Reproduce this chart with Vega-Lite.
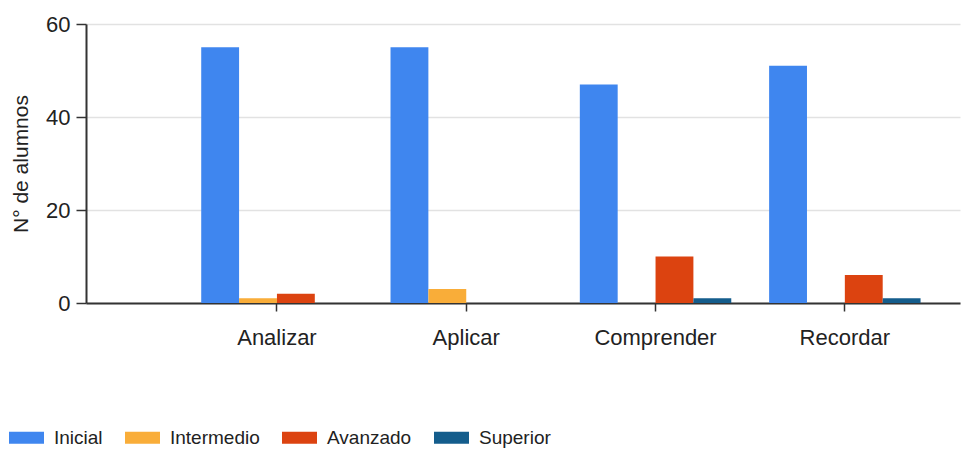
{
  "$schema": "https://vega.github.io/schema/vega-lite/v6.json",
  "autosize": {"type": "none"},
  "width": 874,
  "height": 279,
  "padding": {"left": 86, "top": 24, "right": 1, "bottom": 152},
  "background": "white",
  "data": {
    "values": [
      {"categoria": "Analizar", "nivel": "Inicial", "alumnos": 55},
      {"categoria": "Analizar", "nivel": "Intermedio", "alumnos": 1},
      {"categoria": "Analizar", "nivel": "Avanzado", "alumnos": 2},
      {"categoria": "Analizar", "nivel": "Superior", "alumnos": 0},
      {"categoria": "Aplicar", "nivel": "Inicial", "alumnos": 55},
      {"categoria": "Aplicar", "nivel": "Intermedio", "alumnos": 3},
      {"categoria": "Aplicar", "nivel": "Avanzado", "alumnos": 0},
      {"categoria": "Aplicar", "nivel": "Superior", "alumnos": 0},
      {"categoria": "Comprender", "nivel": "Inicial", "alumnos": 47},
      {"categoria": "Comprender", "nivel": "Intermedio", "alumnos": 0},
      {"categoria": "Comprender", "nivel": "Avanzado", "alumnos": 10},
      {"categoria": "Comprender", "nivel": "Superior", "alumnos": 1},
      {"categoria": "Recordar", "nivel": "Inicial", "alumnos": 51},
      {"categoria": "Recordar", "nivel": "Intermedio", "alumnos": 0},
      {"categoria": "Recordar", "nivel": "Avanzado", "alumnos": 6},
      {"categoria": "Recordar", "nivel": "Superior", "alumnos": 1}
    ]
  },
  "mark": {"type": "bar"},
  "encoding": {
    "x": {
      "field": "categoria",
      "type": "nominal",
      "sort": ["Analizar", "Aplicar", "Comprender", "Recordar"],
      "scale": {"paddingInner": 0.2, "paddingOuter": 0.4085, "align": 0.745},
      "axis": {
        "title": null,
        "labelAngle": 0,
        "labelFont": "Liberation Sans, Arial, sans-serif",
        "labelFontSize": 22,
        "labelColor": "#222222",
        "labelPadding": 16,
        "tickSize": 8,
        "tickColor": "#333333",
        "tickWidth": 1.5,
        "domainColor": "#333333",
        "domainWidth": 2,
        "grid": false
      }
    },
    "xOffset": {
      "field": "nivel",
      "type": "nominal",
      "sort": ["Inicial", "Intermedio", "Avanzado", "Superior"],
      "scale": {"paddingInner": 0, "paddingOuter": 0}
    },
    "y": {
      "field": "alumnos",
      "type": "quantitative",
      "scale": {"domain": [0, 60], "nice": false},
      "axis": {
        "title": "N° de alumnos",
        "values": [0, 20, 40, 60],
        "titleFont": "Liberation Sans, Arial, sans-serif",
        "titleFontSize": 21,
        "titleFontWeight": "normal",
        "titleColor": "#222222",
        "titleX": -65,
        "titleY": 139.5,
        "titleAngle": -90,
        "titleAlign": "center",
        "titleBaseline": "middle",
        "labelFont": "Liberation Sans, Arial, sans-serif",
        "labelFontSize": 22,
        "labelColor": "#222222",
        "labelPadding": 6,
        "tickSize": 10,
        "tickColor": "#333333",
        "tickWidth": 1.5,
        "domainColor": "#333333",
        "domainWidth": 2,
        "gridColor": "#e2e2e2",
        "gridWidth": 1.5
      }
    },
    "color": {
      "field": "nivel",
      "type": "nominal",
      "sort": ["Inicial", "Intermedio", "Avanzado", "Superior"],
      "scale": {
        "domain": ["Inicial", "Intermedio", "Avanzado", "Superior"],
        "range": ["#3f86ef", "#f9ad39", "#dc4310", "#145d8c"]
      },
      "legend": {
        "title": null,
        "orient": "none",
        "direction": "horizontal",
        "legendX": -77,
        "legendY": 396,
        "symbolType": "M-1,-0.34L1,-0.34L1,0.34L-1,0.34Z",
        "symbolSize": 1225,
        "symbolStrokeWidth": 0,
        "symbolOpacity": 1,
        "labelFont": "Liberation Sans, Arial, sans-serif",
        "labelFontSize": 19,
        "labelColor": "#222222",
        "labelOffset": 10,
        "columnPadding": 22,
        "labelLimit": 200
      }
    }
  },
  "config": {
    "view": {"stroke": null},
    "axis": {"zindex": 1}
  }
}
